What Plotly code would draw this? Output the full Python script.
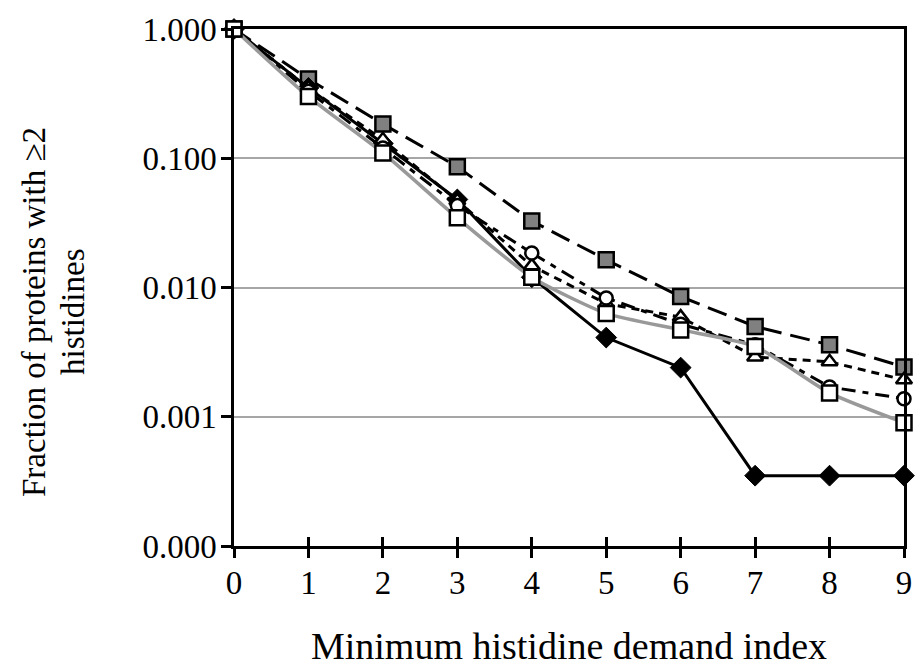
import plotly.graph_objects as go

x_index = [0, 1, 2, 3, 4, 5, 6, 7, 8, 9]

gray_squares = [1.0, 0.41, 0.184, 0.086, 0.0327, 0.0164, 0.0085, 0.0050, 0.0036, 0.00243]
black_diamonds = [1.0, 0.35, 0.13, 0.048, 0.012, 0.0041, 0.0024, 0.00035, 0.00035, 0.00035]
open_triangles = [1.0, 0.35, 0.139, 0.047, 0.0147, 0.0075, 0.0059, 0.0029, 0.00266, 0.00193]
open_circles = [1.0, 0.33, 0.12, 0.043, 0.0185, 0.0083, 0.0052, 0.0036, 0.0017, 0.00138]
open_squares = [1.0, 0.30, 0.11, 0.0346, 0.012, 0.0063, 0.0047, 0.0035, 0.00153, 0.00090]

y_tickvals = [0.0001, 0.001, 0.01, 0.1, 1.0]
y_ticktext = ["0.000", "0.001", "0.010", "0.100", "1.000"]
x_ticktext = [str(v) for v in x_index]
y_title_lines = ["Fraction of proteins with \u22652", "histidines"]

FONT = "Liberation Serif, Times New Roman, serif"

fig = go.Figure()

fig.add_trace(go.Scatter(
    x=x_index, y=gray_squares, mode="lines+markers", cliponaxis=False,
    line=dict(color="black", width=3, dash="20px,9px"),
    marker=dict(symbol="square", size=15, color="#808080", line=dict(color="black", width=2.5)),
))
fig.add_trace(go.Scatter(
    x=x_index, y=black_diamonds, mode="lines+markers", cliponaxis=False,
    line=dict(color="black", width=3),
    marker=dict(symbol="diamond", size=16, color="black", line=dict(color="black", width=1)),
))
fig.add_trace(go.Scatter(
    x=x_index, y=open_triangles, mode="lines+markers", cliponaxis=False,
    line=dict(color="black", width=3, dash="8px,6px"),
    marker=dict(symbol="triangle-up", size=14, color="white", line=dict(color="black", width=2.5)),
))
fig.add_trace(go.Scatter(
    x=x_index, y=open_circles, mode="lines+markers", cliponaxis=False,
    line=dict(color="black", width=3, dash="14px,7px,6px,7px"),
    marker=dict(symbol="circle", size=13, color="white", line=dict(color="black", width=2.5)),
))
fig.add_trace(go.Scatter(
    x=x_index, y=open_squares, mode="lines+markers", cliponaxis=False,
    line=dict(color="#999999", width=3.5, shape="spline", smoothing=0.6),
    marker=dict(symbol="square", size=15, color="white", line=dict(color="black", width=2.5)),
))
# helper trace for the inner half of the crossing x ticks
fig.add_trace(go.Scatter(x=[None], y=[None], xaxis="x2", yaxis="y", showlegend=False, hoverinfo="skip"))

fig.update_layout(
    width=915, height=667,
    margin=dict(l=234, r=11, t=29, b=121),
    paper_bgcolor="white", plot_bgcolor="white",
    showlegend=False,
    font=dict(family=FONT, color="black"),
    xaxis=dict(
        range=[0, 9], tickmode="array", tickvals=x_index, ticktext=x_ticktext,
        ticks="outside", ticklen=9, tickwidth=2.5, tickcolor="black",
        showline=True, linecolor="black", linewidth=2.5, mirror=True,
        showgrid=False, zeroline=False, automargin=False,
        tickfont=dict(size=33, family=FONT), ticklabelstandoff=-3,
        title=dict(text="Minimum histidine demand index", font=dict(size=38, family=FONT), standoff=41),
    ),
    xaxis2=dict(
        range=[0, 9], overlaying="x", anchor="y", side="bottom", automargin=False,
        tickmode="array", tickvals=x_index, ticks="inside", ticklen=9, tickwidth=2.5, tickcolor="black",
        showticklabels=False, showline=False, showgrid=False, zeroline=False,
    ),
    yaxis=dict(
        type="log", range=[-4, 0], tickmode="array", tickvals=y_tickvals, ticktext=y_ticktext,
        ticks="outside", ticklen=10, tickwidth=2.5, tickcolor="black",
        showline=True, linecolor="black", linewidth=2.5, mirror=True,
        showgrid=True, gridcolor="#a6a6a6", gridwidth=2, zeroline=False, automargin=False,
        tickfont=dict(size=33, family=FONT), ticklabelstandoff=-2,
    ),
)

title_x_px = [34, 73]
for txt, px in zip(y_title_lines, title_x_px):
    fig.add_annotation(
        text=txt, textangle=-90, showarrow=False,
        xref="paper", yref="paper",
        x=(px - 234) / 670, y=1 - (312 - 29) / 517,
        xanchor="center", yanchor="middle",
        font=dict(size=33, family=FONT, color="black"),
    )

fig.write_html("out.html")
